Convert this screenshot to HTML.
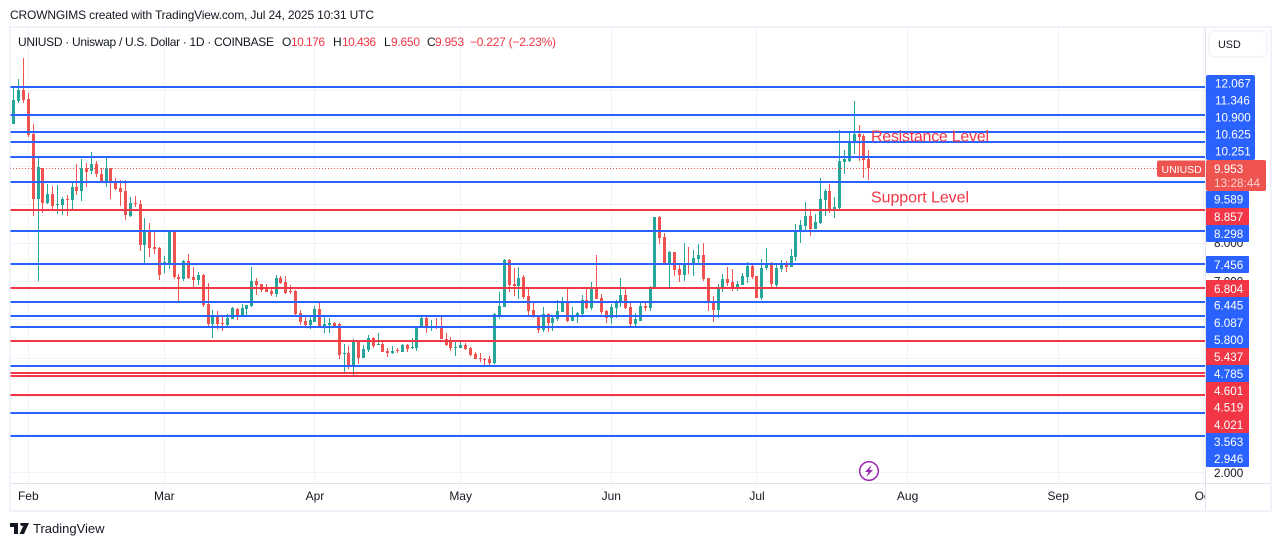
<!DOCTYPE html>
<html lang="en">
<head>
<meta charset="utf-8">
<title>UNIUSD chart</title>
<style>
html,body{margin:0;padding:0;background:#fff;width:1281px;height:546px;overflow:hidden}
svg{display:block;font-family:"Liberation Sans",sans-serif}
text{fill:#131722;font-size:12px}
.lbl{fill:#fff;font-size:11.7px}
.tm{font-size:12px;text-anchor:middle}
</style>
</head>
<body>
<svg id="chart" xmlns="http://www.w3.org/2000/svg" width="1281" height="546" viewBox="0 0 1281 546">
  <defs>
    <clipPath id="pane-clip"><rect x="10.5" y="28" width="1194.5" height="455"/></clipPath>
    <clipPath id="time-clip"><rect x="11" y="484" width="1194" height="26"/></clipPath>
  </defs>
  <text x="10" y="19" textLength="364" lengthAdjust="spacing">CROWNGIMS created with TradingView.com, Jul 24, 2025 10:31 UTC</text>
  <rect x="10" y="27" width="1261" height="484" fill="#fff" stroke="#f0f3fa" stroke-width="2"/>
  <g id="grid"></g>
  <g id="candles" clip-path="url(#pane-clip)"></g>
  <g id="levels" clip-path="url(#pane-clip)"></g>
  <g id="last-price" clip-path="url(#pane-clip)"></g>
  <rect x="11" y="483" width="1259" height="1" fill="#e0e3eb"/>
  <rect x="1205" y="28" width="1" height="482" fill="#e0e3eb"/>
  <g id="time-axis" clip-path="url(#time-clip)"></g>
  <g id="price-axis"></g>

  <g>
    <text x="18" y="46" textLength="256" lengthAdjust="spacing">UNIUSD · Uniswap / U.S. Dollar · 1D · COINBASE</text>
    <text x="282" y="46">O</text>
    <text x="291" y="46" textLength="34" style="fill:#f23645">10.176</text>
    <text x="333" y="46">H</text>
    <text x="342" y="46" textLength="34" style="fill:#f23645">10.436</text>
    <text x="384" y="46">L</text>
    <text x="391" y="46" textLength="29" style="fill:#f23645">9.650</text>
    <text x="427" y="46">C</text>
    <text x="435" y="46" textLength="29" style="fill:#f23645">9.953</text>
    <text x="470" y="46" textLength="86" style="fill:#f23645">−0.227 (−2.23%)</text>
  </g>

  <text x="871" y="141.500" textLength="118" style="fill:#f23645;font-size:16px">Resistance Level</text>
  <text x="871" y="202.500" textLength="98" style="fill:#f23645;font-size:16px">Support Level</text>

  <g>
    <rect x="1206" y="75" width="49" height="85" rx="2" fill="#2962ff"/>
    <text class="lbl" x="1215" y="87.500">12.067</text>
    <text class="lbl" x="1215" y="104.700">11.346</text>
    <text class="lbl" x="1215" y="121.700">10.900</text>
    <text class="lbl" x="1215" y="138.700">10.625</text>
    <text class="lbl" x="1215" y="155.700">10.251</text>

    <rect x="1206" y="160" width="60" height="31" rx="2" fill="#ef5350"/>
    <text class="lbl" x="1214" y="173">9.953</text>
    <text class="lbl" x="1214" y="187" textLength="46" style="fill:#fbd0cf">13:28:44</text>
    <path d="M1159 160.500H1205V177H1159a2 2 0 0 1-2-2V162.500a2 2 0 0 1 2-2Z" fill="#ef5350"/>
    <text class="lbl" x="1161.500" y="173" style="font-size:10.500px">UNIUSD</text>

    <rect x="1206" y="191" width="43" height="17" rx="1" fill="#2962ff"/>
    <text class="lbl" x="1214" y="203.500">9.589</text>
    <rect x="1206" y="208" width="43" height="17" fill="#f23645"/>
    <text class="lbl" x="1214" y="221">8.857</text>
    <rect x="1206" y="225" width="43" height="17" rx="1" fill="#2962ff"/>
    <text class="lbl" x="1214" y="238">8.298</text>
    <rect x="1206" y="256" width="43" height="17" rx="1" fill="#2962ff"/>
    <text class="lbl" x="1214" y="269">7.456</text>

    <rect x="1206" y="280" width="43" height="17" fill="#f23645"/>
    <text class="lbl" x="1214" y="293">6.804</text>
    <rect x="1206" y="297" width="43" height="17" fill="#2962ff"/>
    <text class="lbl" x="1214" y="309.500">6.445</text>
    <rect x="1206" y="314" width="43" height="17" fill="#2962ff"/>
    <text class="lbl" x="1214" y="327">6.087</text>
    <rect x="1206" y="331" width="43" height="17" fill="#2962ff"/>
    <text class="lbl" x="1214" y="344">5.800</text>
    <rect x="1206" y="348" width="43" height="17" fill="#f23645"/>
    <text class="lbl" x="1214" y="361">5.437</text>
    <rect x="1206" y="365" width="43" height="17" fill="#2962ff"/>
    <text class="lbl" x="1214" y="378">4.785</text>
    <rect x="1206" y="382" width="43" height="17" fill="#f23645"/>
    <text class="lbl" x="1214" y="395">4.601</text>
    <rect x="1206" y="399" width="43" height="17" fill="#f23645"/>
    <text class="lbl" x="1214" y="411.500">4.519</text>
    <rect x="1206" y="416" width="43" height="17" fill="#f23645"/>
    <text class="lbl" x="1214" y="429">4.021</text>
    <rect x="1206" y="433" width="43" height="17" fill="#2962ff"/>
    <text class="lbl" x="1214" y="446">3.563</text>
    <rect x="1206" y="450" width="43" height="17" rx="1" fill="#2962ff"/>
    <text class="lbl" x="1214" y="463">2.946</text>
  </g>

  <rect x="1209" y="31" width="58" height="26" rx="5" fill="#fff" stroke="#f0f3fa" stroke-width="1.500"/>
  <text x="1218" y="48" style="font-size:10.800px">USD</text>

  <g>
    <circle cx="869" cy="471" r="9.300" fill="#fff" stroke="#9c27b0" stroke-width="1.500"/>
    <path d="M871.500 465L865 472H868.500L866.500 477L873 470H869.500Z" fill="#9c27b0"/>
  </g>

  <g>
    <path d="M10 523H18V534H14V527H10ZM20.500 523H29L24 534H19.500L23.500 525.500A2 2 0 0 1 20.500 523Z" fill="#131722"/>
    <text x="33" y="533" style="font-size:13px">TradingView</text>
  </g>
</svg>

<script>
const opens = [10.995,11.10,11.70,11.99,11.75,10.84,9.14,9.95,9.03,9.27,
9.00,8.98,9.14,9.11,9.45,9.35,9.95,9.87,10.05,9.79,
9.58,9.95,9.58,9.43,9.35,8.70,9.03,9.01,7.94,8.30,
7.88,7.86,7.44,7.44,8.28,7.10,7.05,7.52,7.10,7.02,
7.15,6.40,5.87,6.11,5.90,5.85,6.00,6.26,6.08,6.26,
6.34,7.00,6.92,6.81,6.73,6.66,7.07,6.97,6.73,6.73,
6.16,5.95,5.85,5.93,6.26,5.79,5.85,5.90,5.87,5.09,
5.12,4.78,5.43,4.98,5.19,5.51,5.32,5.35,5.17,5.12,
5.19,5.14,5.32,5.25,5.25,5.79,6.03,5.79,5.82,5.82,
5.48,5.43,5.25,5.25,5.32,5.25,5.09,4.98,4.96,4.96,
4.85,6.06,6.32,7.55,6.92,6.87,7.10,6.60,6.24,6.08,
5.72,6.13,5.90,6.00,6.19,6.42,5.95,6.08,6.13,6.50,
6.29,6.81,6.55,6.21,6.03,6.29,6.42,6.63,6.32,5.87,
5.95,6.34,6.29,6.81,8.67,8.15,7.44,7.76,7.31,7.15,
7.47,7.42,7.57,7.68,7.07,6.47,6.24,6.79,7.05,6.97,
6.79,6.89,7.10,7.39,7.13,6.55,7.34,7.47,6.89,7.31,
7.42,7.36,7.62,8.28,8.43,8.70,8.36,8.51,9.11,9.35,
8.88,8.90,10.11,10.13,10.66,10.84,10.79,10.176];

const highs = [11.13,12.09,12.28,12.83,11.91,11.10,10.21,9.95,9.53,9.48,
9.51,9.19,9.24,9.58,10.05,10.18,10.08,10.37,10.13,9.95,
10.21,9.95,9.69,9.64,9.64,9.19,9.22,9.11,8.64,8.51,
8.28,7.88,7.65,8.33,8.30,7.18,7.55,7.70,7.36,7.23,
7.18,6.94,6.24,6.21,6.08,6.13,6.32,6.29,6.40,6.37,
7.36,7.07,6.92,6.92,6.81,7.15,7.13,7.13,6.89,6.76,
6.24,6.06,6.06,6.34,6.47,6.08,6.03,5.93,5.90,5.35,
5.30,5.48,5.43,5.32,5.58,5.53,5.64,5.40,5.25,5.30,
5.25,5.35,5.35,5.51,5.82,6.11,6.08,5.98,6.03,6.06,
5.64,5.53,5.43,5.43,5.38,5.27,5.14,5.12,4.98,5.04,
6.16,6.71,7.57,7.57,7.34,7.36,7.15,6.84,6.47,6.11,
6.32,6.16,6.11,6.50,6.58,6.81,6.32,6.19,6.63,6.81,
6.97,7.68,6.66,6.24,6.40,6.50,7.07,6.79,6.47,6.16,
6.42,6.42,6.87,8.67,8.70,8.25,7.78,7.76,7.47,7.99,
7.88,7.81,7.96,7.99,7.07,6.60,6.92,7.18,7.36,7.31,
7.00,7.21,7.49,7.47,7.13,7.57,7.86,7.49,7.44,7.55,
7.52,7.83,8.49,8.59,9.06,8.83,8.75,9.69,9.40,9.53,
9.19,10.94,10.42,10.86,11.70,11.07,10.84,10.436];

const lows = [10.995,11.10,11.66,11.66,10.76,8.70,7.00,8.77,9.01,8.85,
8.75,8.72,8.70,8.83,9.24,9.09,9.45,9.79,9.71,9.56,
9.45,9.14,9.38,8.96,8.59,8.67,8.93,7.78,7.42,7.62,
7.70,7.02,7.21,7.31,7.05,6.47,7.00,7.05,6.84,6.89,
6.32,5.77,5.51,5.74,5.69,5.82,6.00,5.98,6.08,6.08,
6.32,6.63,6.71,6.71,6.60,6.58,6.92,6.66,6.66,6.06,
5.85,5.82,5.74,5.93,5.77,5.64,5.64,5.77,4.96,4.59,
4.70,4.54,4.83,4.98,5.14,5.25,5.32,5.14,5.01,5.09,
5.12,5.14,5.14,5.22,5.17,5.79,5.64,5.69,5.74,5.48,
5.30,5.17,5.04,5.25,5.19,5.04,4.96,4.88,4.75,4.75,
4.83,6.00,6.32,6.71,6.60,6.53,6.53,6.11,6.03,5.64,
5.66,5.66,5.69,5.95,6.19,5.93,5.95,5.90,6.11,6.26,
6.24,6.53,6.13,5.90,5.87,6.03,6.32,6.26,5.79,5.79,
5.95,6.21,6.21,6.81,7.96,7.47,6.79,7.13,6.97,7.00,
7.18,7.13,7.42,7.00,6.21,5.93,6.03,6.71,6.87,6.73,
6.73,6.89,6.94,7.05,6.55,6.50,7.28,6.81,6.81,7.23,
7.23,7.36,7.52,7.99,8.30,8.17,8.36,8.49,8.70,8.77,
8.64,8.85,9.79,10.11,10.32,10.13,9.69,9.650];

const closes = [11.13,11.73,11.99,11.73,10.81,9.14,9.98,9.03,9.27,8.96,
9.01,9.14,9.13,9.45,9.35,9.95,9.85,10.05,9.79,9.56,
9.95,9.58,9.40,9.32,8.72,9.03,9.02,7.94,8.30,7.86,
7.83,7.15,7.49,8.28,7.10,7.05,7.52,7.07,7.02,7.15,
6.37,5.87,6.11,5.87,5.88,6.03,6.29,6.08,6.29,6.37,
7.00,6.89,6.76,6.71,6.66,7.07,6.94,6.68,6.71,6.13,
5.93,5.85,5.98,6.26,5.79,5.87,5.90,5.79,5.06,5.12,
4.75,5.45,4.98,5.22,5.51,5.30,5.35,5.14,5.12,5.17,
5.17,5.32,5.22,5.27,5.82,6.03,5.79,5.82,5.77,5.48,
5.32,5.25,5.27,5.32,5.22,5.06,4.96,4.96,4.95,4.85,
6.13,6.34,7.55,6.89,6.87,7.07,6.58,6.21,6.06,5.72,
6.13,5.90,6.03,6.21,6.45,5.95,6.11,6.16,6.50,6.29,
6.84,6.53,6.19,6.03,6.32,6.45,6.63,6.29,5.87,6.00,
6.34,6.29,6.84,8.67,8.12,7.47,7.76,7.28,7.15,7.44,
7.44,7.60,7.68,7.05,6.45,6.24,6.81,7.05,6.94,6.79,
6.92,7.13,7.39,7.10,6.55,7.34,7.47,6.92,7.34,7.42,
7.36,7.65,8.30,8.46,8.70,8.36,8.54,9.14,9.35,8.85,
8.93,10.13,10.18,10.66,10.84,10.76,10.16,9.953];

const firstCandleDay = -4;
const bluePrices = [12.067,11.346,10.900,10.625,10.251,9.589,8.298,7.456,6.445,6.087,5.800,4.785,3.563,2.946];
const redPrices = [8.857,6.804,5.437,4.601,4.519,4.021];
const lastPrice = [9.953];
const gridPrices = [2,3,4,5,6,7,8,9,10,11,12];
const priceTicks = [8,7,2];
const monthNames = ["Feb","Mar","Apr","May","Jun","Jul","Aug","Sep","Oct"];
const monthDays = [0,28,59,89,120,150,181,212,242];

const SVGNS = "http://www.w3.org/2000/svg";
function yOf(p){ return 87.1 + (12.067 - p) * 38.265; }
function xOf(d){ return 28.3 + d * 4.858; }
function mk(tag, parent){
  const el = document.createElementNS(SVGNS, tag);
  parent.appendChild(el);
  return el;
}
function box(el, x, y, w, h, fill){
  el.setAttribute("x", x);
  el.setAttribute("y", y);
  el.setAttribute("width", w);
  el.setAttribute("height", h);
  el.setAttribute("fill", fill);
  el.setAttribute("shape-rendering", "crispEdges");
}

const gridG = document.getElementById("grid");
gridPrices.forEach(function(p){
  const el = mk("rect", gridG);
  
  
  box(el, 11, Math.round(yOf(p)), 1194, 1, "#f0f3fa");
});
monthDays.forEach(function(d){
  const el = mk("rect", gridG);
  
  
  box(el, Math.floor(xOf(d)), 28, 1, 455, "#f0f3fa");
});

const candleG = document.getElementById("candles");
opens.forEach(function(o, i){
  const c = closes[i];
  const color = c >= o ? "#26a69a" : "#ef5350";
  const px = Math.floor(xOf(firstCandleDay + i));
  const wickTop = Math.round(yOf(highs[i]));
  const wickBottom = Math.round(yOf(lows[i]));
  const bodyTop = Math.round(yOf(Math.max(o, c)));
  const bodyBottom = Math.round(yOf(Math.min(o, c)));
  const wick = mk("rect", candleG);
  
  
  box(wick, px, wickTop, 1, Math.max(1, wickBottom - wickTop), color);
  const body = mk("rect", candleG);
  
  
  box(body, px - 1, bodyTop, 3, Math.max(1, bodyBottom - bodyTop), color);
});

const levelG = document.getElementById("levels");
bluePrices.forEach(function(p){
  const el = mk("rect", levelG);
  
  
  box(el, 10, Math.round(yOf(p)) - 1, 1195, 2, "#2962ff");
});
redPrices.forEach(function(p){
  const el = mk("rect", levelG);
  
  
  box(el, 10, Math.round(yOf(p)) - 1, 1195, 2, "#f23645");
});

const lastG = document.getElementById("last-price");
const lastLine = mk("line", lastG);


lastLine.setAttribute("x1", 10);
lastLine.setAttribute("x2", 1157);
lastLine.setAttribute("y1", Math.round(yOf(lastPrice[0])) + 0.5);
lastLine.setAttribute("y2", Math.round(yOf(lastPrice[0])) + 0.5);
lastLine.setAttribute("stroke", "#ef5350");
lastLine.setAttribute("stroke-width", 1);
lastLine.setAttribute("stroke-dasharray", "1 2");

const timeG = document.getElementById("time-axis");
monthNames.forEach(function(name, i){
  const el = mk("text", timeG);
  
  
  el.setAttribute("class", "tm");
  el.setAttribute("x", xOf(monthDays[i]));
  el.setAttribute("y", 500);
  el.textContent = name;
});

const priceG = document.getElementById("price-axis");
priceTicks.forEach(function(p){
  const el = mk("text", priceG);
  
  
  el.setAttribute("x", 1214);
  el.setAttribute("y", yOf(p) + 4.5);
  el.setAttribute("style", "font-size:11.7px");
  el.textContent = p.toFixed(3);
});
</script>
</body>
</html>
